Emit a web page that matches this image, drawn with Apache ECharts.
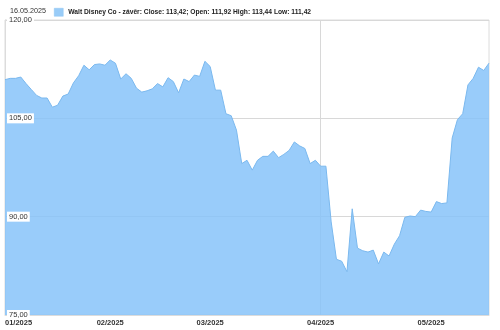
<!DOCTYPE html>
<html>
<head>
<meta charset="utf-8">
<script src="https://cdn.jsdelivr.net/npm/echarts@6/dist/echarts.min.js"></script>
<style>html,body{margin:0;padding:0;background:#fff}#c{width:500px;height:330px}</style>
</head>
<body>
<div id="c"></div>
<script>
var dates = [
 "2025-01-02","2025-01-03","2025-01-06","2025-01-07","2025-01-08","2025-01-10","2025-01-13","2025-01-14","2025-01-15","2025-01-16",
 "2025-01-17","2025-01-21","2025-01-22","2025-01-23","2025-01-24","2025-01-27","2025-01-28","2025-01-29","2025-01-30","2025-01-31",
 "2025-02-03","2025-02-04","2025-02-05","2025-02-06","2025-02-07","2025-02-10","2025-02-11","2025-02-12","2025-02-13","2025-02-14",
 "2025-02-18","2025-02-19","2025-02-20","2025-02-21","2025-02-24","2025-02-25","2025-02-26","2025-02-27","2025-02-28",
 "2025-03-03","2025-03-04","2025-03-05","2025-03-06","2025-03-07","2025-03-10","2025-03-11","2025-03-12","2025-03-13","2025-03-14",
 "2025-03-17","2025-03-18","2025-03-19","2025-03-20","2025-03-21","2025-03-24","2025-03-25","2025-03-26","2025-03-27","2025-03-28","2025-03-31",
 "2025-04-01","2025-04-02","2025-04-03","2025-04-04","2025-04-07","2025-04-08","2025-04-09","2025-04-10","2025-04-11","2025-04-14",
 "2025-04-15","2025-04-16","2025-04-17","2025-04-21","2025-04-22","2025-04-23","2025-04-24","2025-04-25","2025-04-28","2025-04-29","2025-04-30",
 "2025-05-01","2025-05-02","2025-05-05","2025-05-06","2025-05-07","2025-05-08","2025-05-09","2025-05-12","2025-05-13","2025-05-14","2025-05-15","2025-05-16"
];
var closeValues = [
 110.9,111.1,111.1,111.3,110.3,109.4,108.5,108.1,108.1,106.7,
 107.0,108.4,108.7,110.4,111.5,113.1,112.4,113.2,113.3,113.1,
 113.9,113.4,111.0,111.8,111.1,109.6,109.0,109.2,109.5,110.3,
 109.8,111.2,110.6,108.9,111.0,110.6,111.6,111.4,113.7,
 112.9,109.3,109.3,105.7,105.4,103.2,98.1,98.6,97.1,98.6,
 99.2,99.2,100.0,99.0,99.5,100.1,101.4,100.8,100.4,98.1,98.6,
 97.7,97.7,89.2,83.5,83.2,81.6,91.2,85.2,84.8,84.6,
 84.9,82.8,84.6,84.0,85.8,87.1,89.9,90.1,90.0,91.0,90.8,
 90.7,92.3,92.0,92.1,102.0,104.8,105.7,110.1,111.1,112.8,112.3,113.42
];
var yTicks = [75, 90, 105, 120];
var headerDate = "16.05.2025";
var seriesName = "Walt Disney Co - závěr: Close: 113,42; Open: 111,92 High: 113,44 Low: 111,42";

var font = "Liberation Sans, Arial, sans-serif";
var monthStarts = {};
dates.forEach(function (d, i) {
  var m = d.slice(0, 7);
  if (!(m in monthStarts)) monthStarts[m] = i;
});
var startIdx = {};
Object.keys(monthStarts).forEach(function (k) { startIdx[monthStarts[k]] = true; });

var yBase = {
  type: 'value', min: yTicks[0], max: yTicks[yTicks.length - 1], interval: 15,
  axisTick: {show: false}
};

var chart = echarts.init(document.getElementById('c'), null, {renderer: 'canvas'});
chart.setOption({
  animation: false,
  title: {
    text: headerDate, left: 5, top: 3,
    textStyle: {fontSize: 7.2, fontWeight: 'normal', color: '#333', fontFamily: font}
  },
  legend: {
    left: 49, top: 3, itemWidth: 9, itemHeight: 8, itemGap: 4,
    icon: 'rect', selectedMode: false,
    textStyle: {fontSize: 6.7, fontWeight: 'bold', color: '#222', fontFamily: font},
    data: [{name: seriesName, itemStyle: {color: '#99ccf8', borderColor: '#8ec2f0', borderWidth: 0.5}}]
  },
  grid: {left: 5, right: 11, top: 20, bottom: 15, show: true, borderColor: '#dcdcdc', borderWidth: 1},
  xAxis: {
    type: 'category', boundaryGap: false, data: dates,
    axisLine: {show: true, lineStyle: {color: '#dcdcdc'}},
    axisTick: {show: false},
    axisLabel: {
      interval: function (i) { return !!startIdx[i]; },
      formatter: function (v) { return v.slice(5, 7) + '/' + v.slice(0, 4); },
      fontSize: 7.5, fontWeight: 'bold', color: '#333', fontFamily: font, margin: 4,
      alignMinLabel: 'left', showMinLabel: true
    },
    splitLine: {show: true, interval: function (i) { return dates[i] === '2025-04-01'; }, lineStyle: {color: '#d8d8d8', width: 1}}
  },
  yAxis: [
    Object.assign({}, yBase, {
      axisLine: {show: true, lineStyle: {color: '#dcdcdc'}},
      axisLabel: {show: false},
      splitLine: {show: true, lineStyle: {color: '#d8d8d8', width: 1}}
    }),
    Object.assign({}, yBase, {
      position: 'left', offset: 0,
      axisLine: {show: false},
      splitLine: {show: false},
      axisLabel: {
        inside: true, margin: 2, fontSize: 7.5, color: '#333', fontFamily: font,
        backgroundColor: '#fff', padding: [1, 2, 1, 2],
        formatter: function (v) { return v.toFixed(2).replace('.', ','); }
      },
      z: 5
    })
  ],
  series: [{
    name: seriesName, type: 'line', data: closeValues, symbol: 'none', yAxisIndex: 0,
    lineStyle: {color: '#7ab8ee', width: 1},
    itemStyle: {color: '#99ccf8'},
    areaStyle: {color: 'rgb(135,195,249)', opacity: 0.85},
    z: 2
  }]
});
</script>
</body>
</html>
